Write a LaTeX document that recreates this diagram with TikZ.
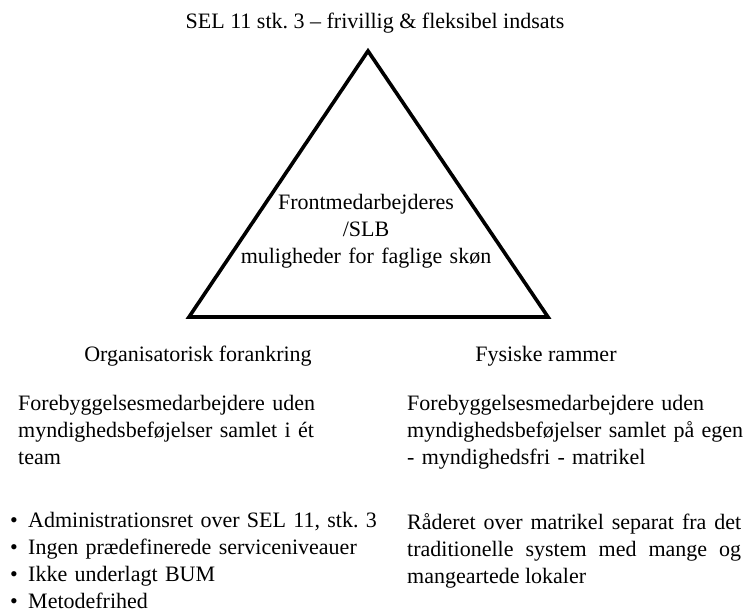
\documentclass[tikz,border=0pt]{standalone}
\usepackage{fontspec}
\setmainfont{Liberation Serif}
\usetikzlibrary{positioning, calc}

\newcommand{\bitem}[1]{\makebox[18pt][l]{\textbullet}#1}

\begin{document}
\frenchspacing
\begin{tikzpicture}[
    x=1pt, y=1pt,
    txt/.style    ={inner sep=0pt, font=\fontsize{22}{27}\selectfont},
    heading/.style={txt, anchor=base},
    para/.style   ={txt, anchor=base west, text width=370pt, align=left},
    trianglebox/.style={line width=3.6pt, line join=miter},
    ]
    \useasboundingbox (0,0) rectangle (748,613);

    % --- Title and triangle ---
    \node[heading] (title) at (375,584) {SEL 11 stk. 3 -- frivillig \& fleksibel indsats};

    \coordinate (apex) at (368,562);
    \coordinate (base_l) at (189,296);
    \coordinate (base_r) at (548,296);
    \draw[trianglebox] (apex) -- (base_r) -- (base_l) -- cycle;

    \node[txt, anchor=base, text width=280pt, align=center] (slb) at (366,403)
        {Frontmedarbejderes\\/SLB\\muligheder for faglige skøn};

    % --- Headings ---
    \node[heading] (org) at (198,251) {Organisatorisk forankring};
    \node[heading] (fys) at (546,251) {Fysiske rammer};

    % --- Left column ---
    \node[para] (org_team) at (18,202)
        {Forebyggelsesmedarbejdere uden\\myndighedsbeføjelser samlet i ét\\team};
    \node[para, text width=450pt] (org_list) at (10,85)
        {\bitem{Administrationsret over SEL 11, stk. 3}\\
         \bitem{Ingen prædefinerede serviceniveauer}\\
         \bitem{Ikke underlagt BUM}\\
         \bitem{Metodefrihed}};

    % --- Right column ---
    \node[para] (fys_team) at (407,202)
        {Forebyggelsesmedarbejdere uden\\myndighedsbeføjelser samlet på egen\\- myndighedsfri - matrikel};
    \node[para, text width=334pt, align=justify] (fys_matr) at (407,83)
        {Råderet over matrikel separat fra det\linebreak traditionelle system med mange og\linebreak mangeartede lokaler};
\end{tikzpicture}
\end{document}
